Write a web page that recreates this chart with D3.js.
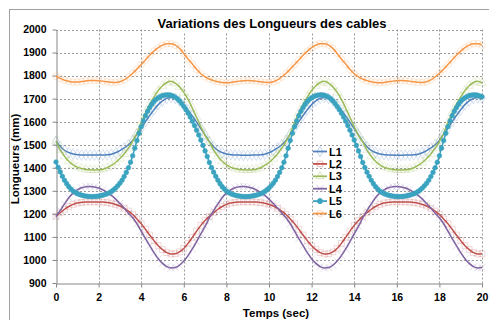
<!DOCTYPE html>
<html>
    <head>
        <meta charset="utf-8">
        <script src="https://d3js.org/d3.v7.min.js"></script>
        <style>
            body { margin: 0; background: #fff; }
            text { font-family: "Liberation Sans", Arial, sans-serif; }
        </style>
    </head>
    <body>
        <script>
// sample times : every 0.2 s from 0 to 20 s (L5 was read every 0.1 s)
var times = d3.range(0, 101).map(i => +(i * 0.2).toFixed(1));
var timesFine = d3.range(0, 201).map(i => +(i * 0.1).toFixed(1));

var xTicks = [0, 2, 4, 6, 8, 10, 12, 14, 16, 18, 20];
var yTicks = [900, 1000, 1100, 1200, 1300, 1400, 1500, 1600, 1700, 1800, 1900, 2000];
var names = ["L1", "L2", "L3", "L4", "L5", "L6"];

// cable lengths (mm)
var L1 = [1515,1492,1476,1466,1460,1457,1455,1455,1455,1455,1455,1455,1456,1459,1465,1474,1486,1500,1518,1546,1572,1600,1627,1652,1674,1690,1701,1705,1701,1690,1672,1650,1625,1598,1570,1543,
          1514,1491,1476,1466,1460,1457,1455,1455,1454,1454,1455,1455,1456,1459,1465,1474,1486,1500,1519,1546,1572,1600,1627,1652,1674,1690,1701,1705,1701,1690,1672,1650,1625,1598,1570,1543,
          1514,1491,1476,1466,1460,1457,1455,1455,1454,1454,1455,1455,1456,1459,1465,1474,1486,1500,1519,1546,1572,1600,1627,1652,1674,1690,1701,1705,1702];
var L2 = [1190,1205,1220,1232,1241,1247,1250,1252,1252,1252,1252,1251,1249,1246,1241,1234,1224,1212,1197,1178,1157,1133,1108,1084,1062,1045,1032,1026,1027,1035,1050,1072,1098,1125,1150,1171,
          1189,1205,1220,1232,1241,1247,1250,1252,1252,1252,1252,1251,1249,1246,1241,1234,1224,1212,1197,1178,1157,1133,1108,1084,1062,1045,1032,1026,1027,1035,1050,1072,1098,1125,1150,1171,
          1189,1205,1220,1232,1241,1247,1250,1252,1252,1252,1252,1251,1249,1246,1241,1234,1224,1212,1197,1178,1157,1133,1108,1084,1062,1045,1032,1026,1027];
var L3 = [1514,1478,1450,1428,1413,1403,1397,1393,1391,1390,1391,1394,1400,1410,1423,1440,1460,1485,1515,1550,1596,1638,1676,1707,1735,1756,1770,1775,1767,1751,1727,1697,1659,1619,1578,1540,
          1512,1477,1450,1428,1413,1403,1397,1393,1391,1390,1391,1394,1400,1410,1423,1440,1460,1485,1515,1550,1596,1638,1676,1707,1735,1756,1770,1775,1767,1751,1727,1697,1659,1619,1578,1540,
          1512,1477,1450,1428,1413,1403,1397,1393,1391,1390,1391,1394,1400,1410,1423,1440,1460,1485,1515,1550,1596,1638,1676,1707,1735,1756,1770,1775,1768];
var L4 = [1188,1215,1243,1270,1290,1304,1313,1318,1319,1317,1312,1304,1293,1280,1264,1245,1225,1203,1183,1157,1125,1093,1062,1032,1005,985,971,965,967,977,995,1019,1048,1080,1113,1146,
          1182,1214,1243,1270,1290,1304,1313,1318,1319,1317,1312,1304,1293,1280,1264,1245,1225,1203,1183,1157,1125,1093,1062,1032,1005,985,971,965,967,977,995,1019,1048,1080,1113,1146,
          1182,1214,1243,1270,1290,1304,1313,1318,1319,1317,1312,1304,1293,1280,1264,1245,1225,1203,1183,1157,1125,1093,1062,1032,1005,985,971,965,967];
var L5 = [1425,1402,1382,1363,1346,1331,1318,1308,1299,1293,1288,1284,1281,1279,1277,1276,1275,1275,1275,1276,1277,1279,1281,1284,1287,1291,1297,1304,1312,1322,1333,1346,1362,1380,1400,1424,
          1452,1485,1518,1550,1578,1603,1626,1645,1661,1676,1688,1697,1704,1709,1713,1715,1716,1716,1714,1711,1706,1699,1690,1679,1666,1652,1637,1620,1602,1583,1563,1542,1520,1497,1473,1449,
          1423,1401,1381,1363,1346,1331,1318,1308,1299,1293,1288,1284,1281,1279,1277,1276,1275,1275,1275,1276,1277,1279,1281,1284,1287,1291,1297,1304,1312,1322,1333,1346,1362,1380,1400,1424,
          1452,1485,1518,1550,1578,1603,1626,1645,1661,1676,1688,1697,1704,1709,1713,1715,1716,1716,1714,1711,1706,1699,1690,1679,1666,1652,1637,1620,1602,1583,1563,1542,1520,1497,1473,1449,
          1423,1401,1381,1363,1346,1331,1318,1308,1299,1293,1288,1284,1281,1279,1277,1276,1275,1275,1275,1276,1277,1279,1281,1284,1287,1291,1297,1304,1312,1322,1333,1346,1362,1380,1400,1424,
          1452,1485,1518,1550,1578,1603,1626,1645,1661,1676,1688,1697,1704,1709,1713,1715,1716,1716,1714,1711,1708];
var L6 = [1797,1788,1780,1775,1772,1772,1774,1777,1779,1779,1778,1776,1773,1771,1770,1773,1781,1794,1810,1828,1848,1868,1888,1906,1921,1932,1938,1938,1932,1918,1896,1872,1850,1827,1808,1794,
          1785,1778,1773,1770,1769,1770,1773,1776,1778,1779,1778,1776,1773,1771,1770,1773,1781,1794,1810,1828,1848,1868,1888,1906,1921,1932,1938,1938,1932,1918,1896,1872,1850,1827,1808,1794,
          1785,1778,1773,1770,1769,1770,1773,1776,1778,1779,1778,1776,1773,1771,1770,1773,1781,1794,1810,1828,1848,1868,1888,1906,1921,1932,1938,1938,1932];

var colors = ["#4F81BD", "#C0504D", "#9BBB59", "#8064A2", "#3AA3BF", "#F79646"];
var symbols = [d3.symbolDiamond, d3.symbolSquare, d3.symbolTriangle, d3.symbolTimes || d3.symbolCross, d3.symbolCircle, d3.symbolCircle];
var seriesList = [L1, L2, L3, L4, L5, L6].map((vals, i) => {
    var ts = vals.length > times.length ? timesFine : times;
    return {
        name: names[i],
        color: colors[i],
        symbol: symbols[i],
        points: vals.map((v, j) => ({t: ts[j], v: v}))
    };
});

var width = 489, height = 320;
var svg = d3.select("body").append("svg")
    .attr("width", width)
    .attr("height", height);

var x = d3.scaleLinear().domain([0, 20]).range([56, 482]);
var y = d3.scaleLinear().domain([900, 2000]).range([283, 29.5]);

// outer chart frame
svg.append("rect")
    .attr("x", 9.5).attr("y", 9.5)
    .attr("width", 500).attr("height", 330)
    .style("fill", "none")
    .style("stroke", "#A0A0A0");

// grid
var grid = svg.append("g");
grid.selectAll("line.h")
    .data(yTicks.filter(d => d > 900))
    .enter().append("line")
    .attr("x1", x(0)).attr("x2", x(20))
    .attr("y1", d => Math.round(y(d)) + 0.5).attr("y2", d => Math.round(y(d)) + 0.5)
    .style("stroke", "#9A9A9A")
    .style("stroke-dasharray", "2,2");
grid.selectAll("line.v")
    .data(xTicks.filter(d => d > 0))
    .enter().append("line")
    .attr("x1", d => Math.round(x(d)) + 0.5).attr("x2", d => Math.round(x(d)) + 0.5)
    .attr("y1", y(2000)).attr("y2", y(900))
    .style("stroke", "#9A9A9A")
    .style("stroke-dasharray", "2,2");

// axes
var yAxis = svg.append("g")
    .attr("transform", "translate(" + (Math.round(x(0)) + 0.5) + ",0)")
    .call(d3.axisLeft(y).tickValues(yTicks).tickFormat(d3.format("d")).tickSize(4).tickPadding(6).tickSizeOuter(0));
var xAxis = svg.append("g")
    .attr("transform", "translate(0," + (Math.round(y(900)) + 0.5) + ")")
    .call(d3.axisBottom(x).tickValues(xTicks).tickFormat(d3.format("d")).tickSize(4).tickPadding(6).tickSizeOuter(0));
[xAxis, yAxis].forEach(function(a) {
    a.selectAll("path, line").style("stroke", "#868686");
    a.selectAll("text")
        .style("font-family", "'Liberation Sans', Arial, sans-serif")
        .style("font-size", "10.5px")
        .style("font-weight", "bold")
        .style("fill", "#000");
});

// series
var line = d3.line()
    .x(d => x(d.t))
    .y(d => y(d.v))
    .curve(d3.curveMonotoneX);

var plot = svg.append("g");
seriesList.forEach(function(s, i) {
    var g = plot.append("g");
    var isL5 = (i === 4);
    g.append("path")
        .datum(s.points)
        .attr("d", line)
        .style("fill", "none")
        .style("stroke", s.color)
        .style("stroke-width", 1.5);
    g.selectAll("path.m")
        .data(s.points)
        .enter().append("path")
        .attr("transform", d => "translate(" + x(d.t) + "," + y(d.v) + ")")
        .attr("d", d3.symbol().type(s.symbol).size(isL5 ? 17 : 34))
        .style("fill", isL5 ? s.color : "none")
        .style("stroke", s.color)
        .style("stroke-width", isL5 ? 0.6 : 1)
        .style("opacity", isL5 ? 1 : 0.22);
});

// legend
var legend = svg.append("g");
seriesList.forEach(function(s, i) {
    var ly = 151.5 + i * 12.4;
    var isL5 = (i === 4);
    legend.append("line")
        .attr("x1", 313).attr("x2", 327)
        .attr("y1", ly).attr("y2", ly)
        .style("stroke", s.color)
        .style("stroke-width", 1.8);
    legend.append("path")
        .attr("transform", "translate(320," + ly + ")")
        .attr("d", d3.symbol().type(s.symbol).size(isL5 ? 20 : 30))
        .style("fill", isL5 ? s.color : "none")
        .style("stroke", s.color)
        .style("opacity", isL5 ? 1 : 0.35);
    legend.append("text")
        .attr("x", 329).attr("y", ly + 4)
        .style("font-size", "11px")
        .style("font-weight", "bold")
        .text(s.name);
});

// title with white box hiding the top gridline
svg.append("rect")
    .attr("x", 158).attr("y", 15)
    .attr("width", 229).attr("height", 17)
    .style("fill", "#fff");
svg.append("text")
    .attr("x", 272).attr("y", 28)
    .attr("text-anchor", "middle")
    .style("font-size", "13px")
    .style("font-weight", "bold")
    .text("Variations des Longueurs des cables");

// axis titles
svg.append("text")
    .attr("transform", "translate(19,159) rotate(-90)")
    .attr("text-anchor", "middle")
    .style("font-size", "11.5px")
    .style("font-weight", "bold")
    .text("Longueurs (mm)");
svg.append("text")
    .attr("x", 276).attr("y", 317)
    .attr("text-anchor", "middle")
    .style("font-size", "11.5px")
    .style("font-weight", "bold")
    .text("Temps (sec)");
        </script>
    </body>
</html>
